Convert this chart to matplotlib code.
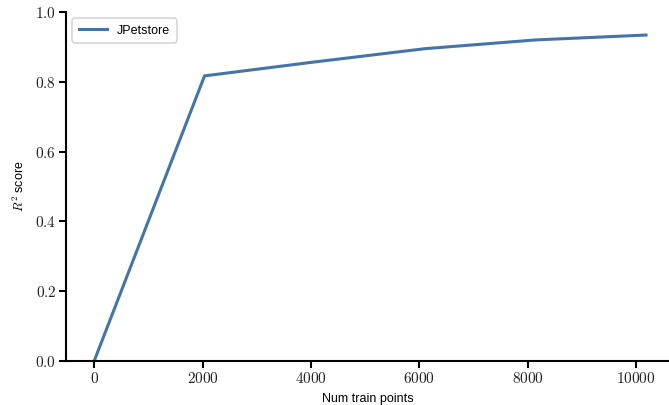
import matplotlib
matplotlib.use("Agg")
import matplotlib.pyplot as plt
from matplotlib.ticker import FuncFormatter

plt.rcParams['font.family'] = ['Liberation Sans', 'DejaVu Sans']
plt.rcParams['mathtext.fontset'] = 'cm'

train_points = [0, 2037, 4074, 6111, 8148, 10185]
r2_scores = [0.0, 0.817, 0.857, 0.895, 0.920, 0.934]
series_name = "JPetstore"

fig = plt.figure(figsize=(6.69, 4.05), dpi=100)
ax = fig.add_axes([66 / 669, 1 - 361 / 405, 1 - 66 / 669, 349 / 405])

ax.plot(train_points, r2_scores, color="#4574a9", lw=2.2, label=series_name)

ax.set_xlim(-520, 10609)
ax.set_ylim(0, 1.0)
ax.set_xticks([0, 2000, 4000, 6000, 8000, 10000])
ax.set_yticks([0.0, 0.2, 0.4, 0.6, 0.8, 1.0])
ax.xaxis.set_major_formatter(FuncFormatter(lambda v, p: r"$%d$" % v))
ax.yaxis.set_major_formatter(FuncFormatter(lambda v, p: r"$%.1f$" % v))

for s in ["top", "right"]:
    ax.spines[s].set_visible(False)
for s in ["left", "bottom"]:
    ax.spines[s].set_linewidth(1.5)
ax.tick_params(width=1.5, length=5, labelsize=11, colors="black", pad=2)
ax.tick_params(labelcolor="#222222")

ax.set_xlabel("Num train points", fontsize=9, labelpad=5)
ax.set_ylabel(r"$R^2$ score", fontsize=9, labelpad=6)

leg = ax.legend(loc="upper left", fontsize=9, frameon=True, fancybox=True,
                borderpad=0.5, handlelength=2.3)
leg.get_frame().set_edgecolor("#cccccc")
leg.get_frame().set_linewidth(1.2)

fig.savefig("out.png", dpi=100)
